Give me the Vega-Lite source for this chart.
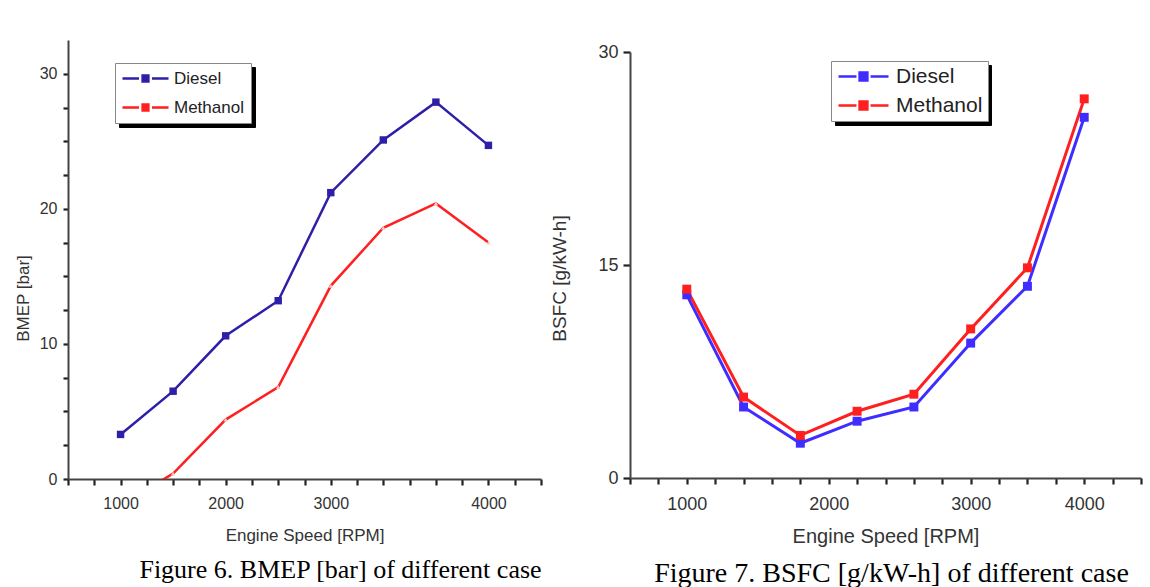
{
  "$schema": "https://vega.github.io/schema/vega-lite/v6.json",
  "padding": {"left": 14, "top": 40, "right": 5, "bottom": 0},
  "background": "white",
  "spacing": 7,
  "config": {
    "font": "Liberation Sans",
    "view": {"stroke": null},
    "axis": {
      "domainColor": "#444", "domainWidth": 2, "ticks": true, "tickColor": "#222", "tickWidth": 2.2, "tickOpacity": 1,
      "labelColor": "#333", "labelFont": "Liberation Sans", "labelFontSize": 16,
      "titleFont": "Liberation Sans", "titleFontSize": 17, "titleFontWeight": "normal", "titleColor": "#333",
      "grid": false, "labelOverlap": false, "labelFlush": false
    },
    "title": {"font": "Liberation Serif", "fontSize": 26, "fontWeight": "normal", "color": "black", "orient": "bottom", "offset": 14},
    "legend": {"title": null, "labelFont": "Liberation Sans", "labelColor": "#222"}
  },
  "datasets": {
    "bmep": [
      {"rpm": 1000, "fuel": "Diesel", "bmep": 3.3},
      {"rpm": 1500, "fuel": "Diesel", "bmep": 6.5},
      {"rpm": 2000, "fuel": "Diesel", "bmep": 10.6},
      {"rpm": 2500, "fuel": "Diesel", "bmep": 13.2},
      {"rpm": 3000, "fuel": "Diesel", "bmep": 21.2},
      {"rpm": 3300, "fuel": "Diesel", "bmep": 25.1},
      {"rpm": 3700, "fuel": "Diesel", "bmep": 27.9},
      {"rpm": 4000, "fuel": "Diesel", "bmep": 24.7},
      {"rpm": 1000, "fuel": "Methanol", "bmep": -1.9},
      {"rpm": 1500, "fuel": "Methanol", "bmep": 0.4},
      {"rpm": 2000, "fuel": "Methanol", "bmep": 4.4},
      {"rpm": 2500, "fuel": "Methanol", "bmep": 6.8},
      {"rpm": 3000, "fuel": "Methanol", "bmep": 14.3},
      {"rpm": 3300, "fuel": "Methanol", "bmep": 18.6},
      {"rpm": 3700, "fuel": "Methanol", "bmep": 20.4},
      {"rpm": 4000, "fuel": "Methanol", "bmep": 17.5}
    ],
    "bsfc": [
      {"rpm": 1000, "fuel": "Diesel", "bsfc": 12.9},
      {"rpm": 1400, "fuel": "Diesel", "bsfc": 5.0},
      {"rpm": 1800, "fuel": "Diesel", "bsfc": 2.45},
      {"rpm": 2200, "fuel": "Diesel", "bsfc": 4.0},
      {"rpm": 2600, "fuel": "Diesel", "bsfc": 5.0},
      {"rpm": 3000, "fuel": "Diesel", "bsfc": 9.5},
      {"rpm": 3500, "fuel": "Diesel", "bsfc": 13.5},
      {"rpm": 4000, "fuel": "Diesel", "bsfc": 25.4},
      {"rpm": 1000, "fuel": "Methanol", "bsfc": 13.3},
      {"rpm": 1400, "fuel": "Methanol", "bsfc": 5.7},
      {"rpm": 1800, "fuel": "Methanol", "bsfc": 3.0},
      {"rpm": 2200, "fuel": "Methanol", "bsfc": 4.7},
      {"rpm": 2600, "fuel": "Methanol", "bsfc": 5.9},
      {"rpm": 3000, "fuel": "Methanol", "bsfc": 10.5},
      {"rpm": 3500, "fuel": "Methanol", "bsfc": 14.8},
      {"rpm": 4000, "fuel": "Methanol", "bsfc": 26.7}
    ]
  },
  "resolve": {
    "scale": {"x": "independent", "y": "independent", "color": "independent", "opacity": "independent"},
    "legend": {"color": "independent", "opacity": "independent"}
  },
  "hconcat": [
    {
      "width": 473,
      "height": 439,
      "title": {"text": "Figure 6. BMEP [bar] of different case", "dx": 36},
      "data": {"name": "bmep"},
      "encoding": {
        "x": {
          "field": "rpm", "type": "quantitative", "title": "Engine Speed [RPM]",
          "scale": {"domain": [500, 1000, 1500, 2000, 2500, 3000, 3300, 3700, 4000, 4300],
                    "range": [0, 52.56, 105.11, 157.67, 210.22, 262.78, 315.33, 367.89, 420.44, 473],
                    "nice": false, "zero": false},
          "axis": {
            "values": [500, 750, 1000, 1250, 1500, 1750, 2000, 2250, 2500, 2750, 3000, 3150, 3300, 3500, 3700, 3850, 4000, 4150, 4300],
            "format": "d",
            "labelExpr": "datum.value % 1000 == 0 ? datum.label : ''",
            "tickSize": 6,
            "labelPadding": 10, "titlePadding": 16
          }
        },
        "y": {
          "field": "bmep", "type": "quantitative", "title": "BMEP [bar]",
          "scale": {"domain": [0, 32.5], "nice": false},
          "axis": {
            "values": [0, 2.5, 5, 7.5, 10, 12.5, 15, 17.5, 20, 22.5, 25, 27.5, 30],
            "labelExpr": "datum.value % 10 == 0 ? datum.label : ''",
            "tickSize": 5,
            "labelPadding": 6,
            "titleX": -45, "titleY": 258, "titleBaseline": "middle", "titleAlign": "center", "titleAngle": 270
          }
        },
        "color": {
          "field": "fuel", "type": "nominal",
          "scale": {"domain": ["Diesel", "Methanol"], "range": ["#2e1fa8", "#ff1f1f"]},
          "legend": {
            "orient": "none", "legendX": 47, "legendY": 23, "zindex": 2,
            "symbolType": "M-3.2,0H-0.9M0.9,0H3.2M-0.4,-0.4H0.4V0.4H-0.4Z",
            "symbolSize": 207, "symbolStrokeWidth": 2.5, "symbolOffset": 15, "labelOffset": 20,
            "labelFontSize": 17, "padding": 7, "rowPadding": 11,
            "strokeColor": "#888", "fillColor": "white",
            "encode": {"symbols": {"update": {
              "fill": {"signal": "datum.value == 'Diesel' ? '#2e1fa8' : '#ff1f1f'"},
              "stroke": {"signal": "datum.value == 'Diesel' ? '#2e1fa8' : '#ff1f1f'"},
              "opacity": {"value": 1}}}}
          }
        }
      },
      "layer": [
        {
          "mark": {"type": "line", "strokeWidth": 2.5, "clip": true},
          "encoding": {
            "opacity": {
              "field": "fuel", "type": "ordinal",
              "scale": {"domain": ["Methanol", "Diesel"], "range": [1, 1]},
              "legend": {
                "orient": "none", "legendX": 51, "legendY": 27, "zindex": 1,
                "symbolType": "M-3.2,0H-0.9M0.9,0H3.2M-0.4,-0.4H0.4V0.4H-0.4Z",
                "symbolSize": 207, "symbolStrokeWidth": 2.5, "symbolOffset": 15, "labelOffset": 90,
                "labelExpr": "''",
                "labelFontSize": 17, "padding": 7, "rowPadding": 11,
                "strokeColor": "black", "fillColor": "black", "labelColor": "black",
                "symbolFillColor": "black", "symbolStrokeColor": "black"
              }
            }
          }
        },
        {
          "transform": [{"filter": "datum.fuel == 'Diesel'"}],
          "mark": {"type": "point", "shape": "square", "filled": true, "size": 55, "opacity": 1}
        },
        {
          "transform": [{"filter": "datum.fuel == 'Methanol' && datum.bmep >= 0"}],
          "mark": {"type": "point", "shape": "triangle-up", "filled": true, "size": 20, "opacity": 1},
          "encoding": {"color": {"value": "#ffc4c4"}}
        }
      ]
    },
    {
      "width": 511,
      "height": 438,
      "title": {"text": "Figure 7. BSFC [g/kW-h] of different case", "dx": 6, "fontSize": 28},
      "data": {"name": "bsfc"},
      "encoding": {
        "x": {
          "field": "rpm", "type": "quantitative", "title": "Engine Speed [RPM]",
          "scale": {"domain": [600, 1000, 1400, 1800, 2200, 2600, 3000, 3500, 4000, 4500],
                    "range": [0, 56.78, 113.56, 170.33, 227.11, 283.89, 340.67, 397.44, 454.22, 511],
                    "nice": false, "zero": false},
          "axis": {
            "values": [600, 800, 1000, 1200, 1400, 1600, 1800, 2000, 2200, 2400, 2600, 2800, 3000, 3250, 3500, 3750, 4000, 4250, 4500],
            "format": "d",
            "labelExpr": "datum.value % 1000 == 0 ? datum.label : ''",
            "tickSize": 6,
            "labelFontSize": 18, "titleFontSize": 20,
            "labelPadding": 11, "titlePadding": 13
          }
        },
        "y": {
          "field": "bsfc", "type": "quantitative", "title": "BSFC [g/kW-h]",
          "scale": {"domain": [0, 30], "range": [438, 12], "nice": false},
          "axis": {
            "values": [0, 15, 30],
            "tickSize": 7, "labelPadding": 5, "labelFontSize": 18, "titleFontSize": 19,
            "titleX": -71, "titleY": 238, "titleBaseline": "middle", "titleAlign": "center", "titleAngle": 270
          }
        },
        "color": {
          "field": "fuel", "type": "nominal",
          "scale": {"domain": ["Diesel", "Methanol"], "range": ["#3f2dff", "#ff1f1f"]},
          "legend": {
            "orient": "none", "legendX": 201, "legendY": 21, "zindex": 2,
            "symbolType": "M-3.2,0H-0.9M0.9,0H3.2M-0.5,-0.5H0.5V0.5H-0.5Z",
            "symbolSize": 244, "symbolStrokeWidth": 2.5, "symbolOffset": 17, "labelOffset": 22,
            "labelFontSize": 21, "padding": 5, "rowPadding": 7,
            "strokeColor": "#888", "fillColor": "white",
            "encode": {"symbols": {"update": {
              "fill": {"signal": "datum.value == 'Diesel' ? '#3f2dff' : '#ff1f1f'"},
              "stroke": {"signal": "datum.value == 'Diesel' ? '#3f2dff' : '#ff1f1f'"},
              "opacity": {"value": 1}}}}
          }
        }
      },
      "layer": [
        {
          "mark": {"type": "line", "strokeWidth": 3},
          "encoding": {
            "opacity": {
              "field": "fuel", "type": "ordinal",
              "scale": {"domain": ["Methanol", "Diesel"], "range": [1, 1]},
              "legend": {
                "orient": "none", "legendX": 205, "legendY": 25, "zindex": 1,
                "symbolType": "M-3.2,0H-0.9M0.9,0H3.2M-0.5,-0.5H0.5V0.5H-0.5Z",
                "symbolSize": 244, "symbolStrokeWidth": 2.5, "symbolOffset": 17, "labelOffset": 108,
                "labelExpr": "''",
                "labelFontSize": 21, "padding": 5, "rowPadding": 7,
                "strokeColor": "black", "fillColor": "black", "labelColor": "black",
                "symbolFillColor": "black", "symbolStrokeColor": "black"
              }
            }
          }
        },
        {
          "mark": {"type": "point", "shape": "square", "filled": true, "size": 80, "opacity": 1}
        }
      ]
    }
  ]
}
